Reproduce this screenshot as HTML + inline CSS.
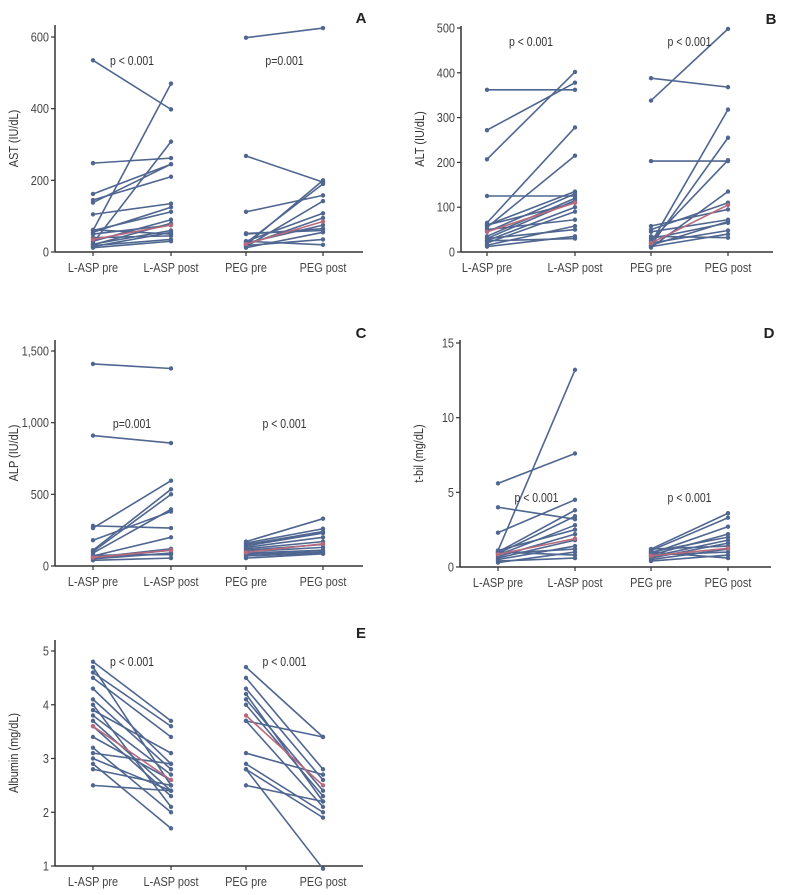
<!DOCTYPE html>
<html><head><meta charset="utf-8">
<style>
html,body{margin:0;padding:0;background:#fff;}
svg{display:block;font-family:"Liberation Sans Narrow","Liberation Sans",sans-serif;}
</style></head>
<body>
<svg id="fig" width="786" height="895" viewBox="0 0 786 895"></svg>
<script>
const categories = ["L-ASP pre","L-ASP post","PEG pre","PEG post"];

const astTicks = [0,200,400,600];
const astLasp = [[535,398],[60,470],[25,308],[248,262],[162,245],[145,210],[138,245],[105,135],[55,125],[60,112],[30,90],[20,80],[15,55],[40,45],[18,35],[12,30],[50,75],[22,60],[62,50]];
const astPeg = [[598,625],[268,195],[112,158],[52,60],[20,200],[25,190],[15,142],[30,108],[20,95],[25,75],[12,55],[18,35],[30,20],[50,65]];
const astMedian = [[35,75],[22,85]];

const altTicks = [0,100,200,300,400,500];
const altLasp = [[362,362],[272,378],[207,402],[125,125],[65,278],[55,215],[60,135],[45,130],[35,120],[30,115],[25,100],[20,90],[50,72],[15,58],[30,50],[12,35],[25,30],[60,110]];
const altPeg = [[388,368],[338,498],[203,203],[20,318],[15,255],[25,205],[10,135],[50,110],[58,95],[45,72],[30,65],[20,48],[12,40],[35,32],[15,68]];
const altMedian = [[45,110],[20,105]];

const alpTicks = [0,500,1000,1500];
const alpTickLabels = ["0","500","1,000","1,500"];
const alpLasp = [[1410,1378],[910,858],[280,265],[265,595],[180,380],[110,535],[100,500],[90,395],[70,200],[60,120],[55,110],[50,90],[75,80],[40,55]];
const alpPeg = [[170,330],[160,260],[150,240],[140,230],[130,200],[120,170],[110,150],[100,130],[90,110],[80,100],[70,90],[55,85]];
const alpMedian = [[60,110],[95,155]];

const bilTicks = [0,5,10,15];
const bilLasp = [[5.6,7.6],[4.0,3.2],[2.3,4.5],[1.1,13.2],[1.0,3.8],[0.9,3.4],[0.8,2.8],[1.1,2.5],[0.7,2.2],[0.6,1.8],[0.5,1.4],[0.9,1.2],[0.3,1.0],[0.4,0.6],[1.0,0.8]];
const bilPeg = [[1.2,3.6],[1.1,3.3],[0.9,2.7],[0.8,2.2],[1.0,2.0],[0.7,1.8],[0.6,1.6],[1.2,1.4],[0.5,1.2],[0.8,1.0],[0.4,0.8],[1.0,0.6]];
const bilMedian = [[0.85,1.9],[0.75,1.25]];

const albTicks = [1,2,3,4,5];
const albLasp = [[4.8,3.7],[4.7,2.5],[4.6,3.6],[4.5,3.4],[4.3,2.9],[4.1,2.8],[4.0,2.1],[3.9,3.1],[3.8,2.7],[3.7,2.4],[3.6,2.3],[3.4,2.6],[3.2,2.0],[3.1,2.9],[3.0,2.4],[2.9,1.7],[2.8,2.5],[2.5,2.4]];
const albPeg = [[4.7,3.4],[4.5,2.8],[4.3,2.6],[4.2,2.2],[4.1,2.4],[4.0,2.3],[3.7,3.4],[3.7,2.1],[3.1,2.7],[2.9,2.0],[2.8,1.9],[2.8,0.95],[2.5,2.2]];
const albMedian = [[3.6,2.6],[3.8,2.5]];

const NS = "http://www.w3.org/2000/svg";
const svg = document.getElementById("fig");
const BLUE = "#4f6690", RED = "#b86a7c", AX = "#333";
const SX = 0.84;

function mk(tag, attrs, parent) {
  const e = document.createElementNS(NS, tag);
  for (const k in attrs) e.setAttribute(k, attrs[k]);
  (parent || svg).appendChild(e);
  return e;
}
function txt(g, x, y, anchor, size, fill, extra) {
  const a = Object.assign({x:0, y:0, transform:`translate(${x},${y}) scale(${SX},1)`, "text-anchor":anchor, "font-size":size, fill:fill}, extra || {});
  return mk("text", a, g);
}

function panel(p) {
  const g = mk("g", {});
  
  
  const y = v => p.y0 + (v - p.vmin) / (p.vmax - p.vmin) * (p.y1 - p.y0);
  const x = i => p.cx[i];
  const ya = mk("line", {x1:p.ax, y1:p.top, x2:p.ax, y2:p.y0, stroke:AX, "stroke-width":1.5}, g);
  
  
  const xa = mk("line", {x1:p.ax, y1:p.y0, x2:p.right, y2:p.y0, stroke:AX, "stroke-width":1.5}, g);
  
  
  p.ticks.forEach((t, i) => {
    mk("line", {x1:p.ax-4, y1:y(t), x2:p.ax, y2:y(t), stroke:AX, "stroke-width":1.2}, g);
    const tx = txt(g, p.ax-6, y(t)+4.5, "end", 13, "#444");
    tx.textContent = p.labels ? p.labels[i] : String(t);
    
    
  });
  categories.forEach((c, i) => {
    mk("line", {x1:x(i), y1:p.y0, x2:x(i), y2:p.y0+4, stroke:AX, "stroke-width":1.2}, g);
    const tx = txt(g, x(i), p.y0+20, "middle", 13, "#444");
    tx.textContent = c;
    
    
  });
  const yt = mk("text", {x:0, y:0, transform:`translate(${p.ax-37},${(p.top+p.y0)/2}) rotate(-90) scale(${SX},1)`, "text-anchor":"middle", "font-size":13, fill:"#333"}, g);
  yt.textContent = p.title;
  
  
  const lt = mk("text", {x:p.right-2, y:p.top-2, "text-anchor":"middle", "font-size":15, "font-weight":"bold", fill:"#222", "font-family":"Liberation Sans, sans-serif"}, g);
  lt.textContent = p.letter;
  
  
  function pairs(arr, i0, color, nm) {
    arr.forEach(d => {
      const l = mk("line", {x1:x(i0), y1:y(d[0]), x2:x(i0+1), y2:y(d[1]), stroke:color, "stroke-width":1.6}, g);
      
      
      mk("circle", {cx:x(i0), cy:y(d[0]), r:2.2, fill:color}, g);
      mk("circle", {cx:x(i0+1), cy:y(d[1]), r:2.2, fill:color}, g);
    });
  }
  pairs(p.lasp, 0, BLUE, "laspa-patient-line");
  pairs(p.peg, 2, BLUE, "peg-patient-line");
  pairs([p.median[0]], 0, RED, "laspa-median-line");
  pairs([p.median[1]], 2, RED, "peg-median-line");
  [0,1].forEach(k => {
    const t = txt(g, (x(2*k)+x(2*k+1))/2, p.py, "middle", 12.5, "#333");
    t.textContent = p.pv[k];
    
    
  });
}

const L = [93,171,246,323];
panel({name:"panel-a-ast", letter:"A", title:"AST (IU/dL)", ax:55, right:363, top:25, y0:252, y1:37, vmin:0, vmax:600, ticks:astTicks, cx:L, lasp:astLasp, peg:astPeg, median:astMedian, py:65, pv:["p < 0.001","p=0.001"]});
panel({name:"panel-b-alt", letter:"B", title:"ALT (IU/dL)", ax:461, right:773, top:26, y0:252, y1:28, vmin:0, vmax:500, ticks:altTicks, cx:[487,575,651,728], lasp:altLasp, peg:altPeg, median:altMedian, py:46, pv:["p < 0.001","p < 0.001"]});
panel({name:"panel-c-alp", letter:"C", title:"ALP (IU/dL)", ax:55, right:363, top:340, y0:566, y1:351, vmin:0, vmax:1500, ticks:alpTicks, labels:alpTickLabels, cx:L, lasp:alpLasp, peg:alpPeg, median:alpMedian, py:428, pv:["p=0.001","p < 0.001"]});
panel({name:"panel-d-tbil", letter:"D", title:"t-bil (mg/dL)", ax:460, right:771, top:340, y0:567, y1:343, vmin:0, vmax:15, ticks:bilTicks, cx:[498,575,651,728], lasp:bilLasp, peg:bilPeg, median:bilMedian, py:502, pv:["p < 0.001","p < 0.001"]});
panel({name:"panel-e-albumin", letter:"E", title:"Albumin (mg/dL)", ax:55, right:363, top:640, y0:866, y1:651, vmin:1, vmax:5, ticks:albTicks, cx:L, lasp:albLasp, peg:albPeg, median:albMedian, py:666, pv:["p < 0.001","p < 0.001"]});
</script>
</body></html>
